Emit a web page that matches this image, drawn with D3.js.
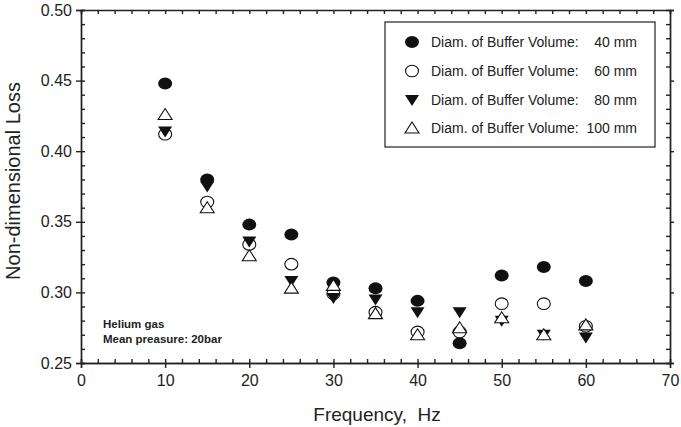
<!DOCTYPE html>
<html lang="en">
<head>
  <meta charset="UTF-8">
  <title>Non-dimensional Loss vs Frequency</title>
  <script src="https://d3js.org/d3.v7.min.js"></script>
  <style>
    body {
      margin: 0;
      background: #fff;
      font-family: Arial, 'Liberation Sans', Helvetica, sans-serif;
    }
    .axis path, .axis line {
      stroke: #222;
      stroke-width: 1.4;
    }
    .axis text {
      font-size: 16px;
      fill: #222;
    }
  </style>
</head>
<body>
<svg width="681" height="427"></svg>
<script>
  // data
  const freq = [10, 15, 20, 25, 30, 35, 40, 45, 50, 55, 60];
  const d40 = [0.448, 0.380, 0.348, 0.341, 0.307, 0.303, 0.294, 0.264, 0.312, 0.318, 0.308];
  const d60 = [0.412, 0.364, 0.334, 0.320, 0.299, 0.286, 0.272, 0.272, 0.292, 0.292, 0.276];
  const d80 = [0.414, 0.375, 0.336, 0.308, 0.296, 0.295, 0.286, 0.286, 0.280, 0.270, 0.268];
  const d100 = [0.426, 0.360, 0.326, 0.303, 0.305, 0.285, 0.270, 0.275, 0.282, 0.270, 0.277];
  const seriesNames = ["40 mm", "60 mm", "80 mm", "100 mm"];
  const xTicks = [0, 10, 20, 30, 40, 50, 60, 70];
  const yTicks = [0.25, 0.30, 0.35, 0.40, 0.45, 0.50];

  const svg = d3.select("svg");
  const mLeft = 81, mRight = 670, mTop = 10, mBottom = 363;

  const x = d3.scaleLinear().domain([0, 70]).range([mLeft, mRight]);
  const y = d3.scaleLinear().domain([0.25, 0.50]).range([mBottom, mTop]);

  const xMinor = d3.range(0, 70.01, 2);
  const yMinor = d3.range(0.25, 0.5001, 0.01);

  // minor ticks point inward, major ticks outward on left/bottom
  svg.append("g").attr("class", "axis")
    .attr("transform", `translate(0,${mBottom})`)
    .call(d3.axisBottom(x).tickValues(xMinor).tickSize(-4).tickFormat(""));
  svg.append("g").attr("class", "axis")
    .attr("transform", `translate(0,${mBottom})`)
    .call(d3.axisBottom(x).tickValues(xTicks).tickSize(5).tickPadding(7).tickFormat(d3.format("d")));

  svg.append("g").attr("class", "axis")
    .attr("transform", `translate(${mLeft},0)`)
    .call(d3.axisLeft(y).tickValues(yMinor).tickSize(-4).tickFormat(""));
  svg.append("g").attr("class", "axis")
    .attr("transform", `translate(${mLeft},0)`)
    .call(d3.axisLeft(y).tickValues(yTicks).tickSize(5).tickPadding(4).tickFormat(d3.format(".2f")));

  // top and right frame
  svg.append("g").attr("class", "axis")
    .attr("transform", `translate(0,${mTop})`)
    .call(d3.axisTop(x).tickValues(xMinor).tickSize(-4).tickFormat(""));
  svg.append("g").attr("class", "axis")
    .attr("transform", `translate(${mRight},0)`)
    .call(d3.axisRight(y).tickValues(yMinor.filter(v => Math.abs(v * 20 - Math.round(v * 20)) > 0.01)).tickSize(-4).tickFormat(""));
  svg.append("g").attr("class", "axis")
    .attr("transform", `translate(${mRight},0)`)
    .call(d3.axisRight(y).tickValues(yTicks).tickSize(4).tickFormat(""));

  svg.selectAll(".axis .domain").attr("stroke-width", 1.6);

  // axis titles
  svg.append("text")
    .attr("x", 377).attr("y", 421)
    .attr("text-anchor", "middle")
    .attr("font-size", "19px").attr("fill", "#222")
    .style("white-space", "pre")
    .text("Frequency,  Hz");

  svg.append("text")
    .attr("transform", "translate(20,181) rotate(-90)")
    .attr("text-anchor", "middle")
    .attr("font-size", "20px").attr("fill", "#222")
    .text("Non-dimensional Loss");

  // markers
  const triUp = "M0,-6 L7,5 L-7,5 Z";
  const triDown = "M0,6 L7,-5 L-7,-5 Z";
  function marker(g, type) {
    if (type === "fc") return g.append("ellipse").attr("rx", 7).attr("ry", 6).attr("fill", "#111");
    if (type === "oc") return g.append("ellipse").attr("rx", 6.5).attr("ry", 5.8).attr("fill", "#fff").attr("stroke", "#111").attr("stroke-width", 1.1);
    if (type === "td") return g.append("path").attr("d", triDown).attr("fill", "#111");
    return g.append("path").attr("d", triUp).attr("fill", "#fff").attr("stroke", "#111").attr("stroke-width", 1.1);
  }

  const series = [
    { vals: d40, type: "fc" },
    { vals: d60, type: "oc" },
    { vals: d80, type: "td" },
    { vals: d100, type: "tu" }
  ];

  series.forEach(s => {
    freq.forEach((f, i) => {
      const g = svg.append("g").attr("transform", `translate(${x(f)},${y(s.vals[i])})`);
      marker(g, s.type);
    });
  });

  // legend
  const lg = svg.append("g");
  lg.append("rect")
    .attr("x", 385).attr("y", 22).attr("width", 270).attr("height", 125)
    .attr("fill", "#fff").attr("stroke", "#222").attr("stroke-width", 1.2);
  const rowY = [42, 71, 100, 128];
  series.forEach((s, i) => {
    const g = lg.append("g").attr("transform", `translate(412,${rowY[i]})`);
    marker(g, s.type);
    lg.append("text")
      .attr("x", 431).attr("y", rowY[i] + 5)
      .attr("font-size", "14px").attr("fill", "#222")
      .text("Diam. of Buffer Volume:");
    lg.append("text")
      .attr("x", 637).attr("y", rowY[i] + 5)
      .attr("text-anchor", "end")
      .attr("font-size", "14px").attr("fill", "#222")
      .text(seriesNames[i]);
  });

  // annotation
  const note = svg.append("g").attr("font-size", "11.5px").attr("font-weight", "bold").attr("fill", "#222");
  note.append("text").attr("x", 103).attr("y", 328).text("Helium gas");
  note.append("text").attr("x", 103).attr("y", 343).text("Mean preasure: 20bar");
</script>
</body>
</html>
